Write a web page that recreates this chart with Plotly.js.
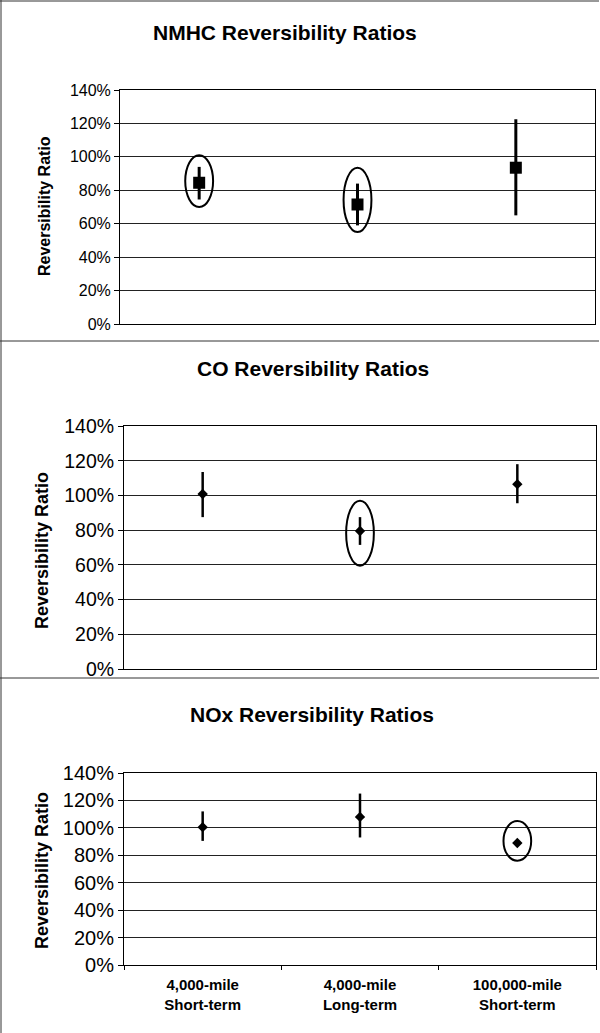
<!DOCTYPE html>
<html>
<head>
<meta charset="utf-8">
<script src="https://cdn.plot.ly/plotly-3.0.1.min.js"></script>
<style>
  html, body { margin: 0; padding: 0; background: #fff; }
  #chart { width: 600px; height: 1033px; }
</style>
</head>
<body>
<div id="chart"></div>
<script>
// ---- data ----
const categories = ['4,000-mile<br>Short-term', '4,000-mile<br>Long-term', '100,000-mile<br>Short-term'];
const yTickVals = [0, 20, 40, 60, 80, 100, 120, 140];
const yTickText = yTickVals.map(v => v + '%');

const nmhcValue = [84.5, 71.5, 93.5];
const nmhcUpper = [94, 84, 122.5];
const nmhcLower = [74.5, 59, 65];

const coValue = [100.8, 79.5, 106.5];
const coUpper = [113.5, 87.5, 118];
const coLower = [87.5, 71.5, 95.5];

const noxValue = [100.5, 108, 89];
const noxUpper = [112, 125, 89];
const noxLower = [90.5, 93, 89];

// circled (highlighted) points: category index, lower / upper extent of the ellipse
const nmhcHighlight = [[0, 70, 101], [1, 55, 93.5]];
const coHighlight = [[1, 59.5, 97]];
const noxHighlight = [[2, 76, 105]];

const panelTitles = ['NMHC Reversibility Ratios', 'CO Reversibility Ratios', 'NOx Reversibility Ratios'];
const yAxisTitle = 'Reversibility Ratio';

// ---- layout helpers ----
const W = 600, H = 1033;
const FONT = 'Liberation Sans, Arial, Helvetica, sans-serif';
const px = v => v / W;
const py = v => 1 - v / H;

function trace(vals, up, lo, sym, size, thick, ax) {
  return {
    type: 'scatter', mode: 'markers',
    x: categories, y: vals,
    xaxis: 'x' + ax, yaxis: 'y' + ax,
    marker: { symbol: sym, size: size, color: '#000' },
    error_y: {
      type: 'data', symmetric: false,
      array: up.map((u, i) => u - vals[i]),
      arrayminus: lo.map((l, i) => vals[i] - l),
      color: '#000', thickness: thick, width: 0
    },
    showlegend: false, hoverinfo: 'skip'
  };
}

const data = [
  trace(nmhcValue, nmhcUpper, nmhcLower, 'square', 12, 3, ''),
  trace(coValue, coUpper, coLower, 'diamond', 8, 2.5, '2'),
  trace(noxValue, noxUpper, noxLower, 'diamond', 8, 2.5, '3')
];
data[0].xaxis = 'x'; data[0].yaxis = 'y';

// plot boxes (pixel coords): [left, right, top(140%), bottom(0%)]
const boxes = [[120, 595, 90, 324], [124, 596, 426, 669], [124, 596, 773, 965]];
const tickSizes = [16, 19.5, 20];

function yax(i) {
  const b = boxes[i];
  return {
    domain: [py(b[3]), py(b[2])], range: [0, 140],
    tickmode: 'array', tickvals: yTickVals, ticktext: yTickText,
    ticks: 'outside', ticklen: 5, tickcolor: '#000',
    showline: true, linecolor: '#000', linewidth: 1, mirror: true,
    showgrid: true, gridcolor: '#222', gridwidth: 1,
    zeroline: false, fixedrange: true,
    tickfont: { family: FONT, size: tickSizes[i], color: '#000' },
    anchor: i === 0 ? 'x' : 'x' + (i + 1)
  };
}
function xax(i) {
  const b = boxes[i];
  return {
    domain: [px(b[0]), px(b[1])],
    type: 'category', categoryorder: 'array', categoryarray: categories,
    range: [-0.5, 2.5],
    showline: true, linecolor: '#000', linewidth: 1, mirror: true,
    showgrid: false, zeroline: false, fixedrange: true,
    showticklabels: i === 2,
    ticks: i === 2 ? 'outside' : '', tickson: 'boundaries', ticklen: 4, tickcolor: '#000',
    ticklabelstandoff: 6,
    tickfont: { family: FONT, size: 15, color: '#000', weight: 'bold' },
    anchor: i === 0 ? 'y' : 'y' + (i + 1)
  };
}

const shapes = [];
function addEllipses(list, ax) {
  list.forEach(h => {
    shapes.push({
      type: 'circle', xref: 'x' + ax, yref: 'y' + ax,
      x0: h[0] - 0.088, x1: h[0] + 0.088, y0: h[1], y1: h[2],
      line: { color: '#000', width: 2 }, fillcolor: 'rgba(0,0,0,0)'
    });
  });
}
addEllipses(nmhcHighlight, '');
addEllipses(coHighlight, '2');
addEllipses(noxHighlight, '3');

// panel frame lines
const frame = { color: '#333', width: 1 };
shapes.push({ type: 'line', xref: 'paper', yref: 'paper', x0: px(1), x1: px(1), y0: 0, y1: 1, line: frame });
shapes.push({ type: 'line', xref: 'paper', yref: 'paper', x0: 0, x1: px(599), y0: py(1), y1: py(1), line: frame });
shapes.push({ type: 'line', xref: 'paper', yref: 'paper', x0: 0, x1: px(599), y0: py(341), y1: py(341), line: frame });
shapes.push({ type: 'line', xref: 'paper', yref: 'paper', x0: 0, x1: px(599), y0: py(678), y1: py(678), line: frame });

const titlePos = [[285, 33], [313, 368], [312, 714]];
const titleSize = [21, 21, 21];
const yTitlePos = [[44, 206], [42, 551], [42, 871]];
const yTitleSize = [16, 18, 18];

const annotations = [];
panelTitles.forEach((t, i) => {
  annotations.push({
    text: t, xref: 'paper', yref: 'paper',
    x: px(titlePos[i][0]), y: py(titlePos[i][1]), xanchor: 'center', yanchor: 'middle',
    showarrow: false, font: { family: FONT, size: titleSize[i], color: '#000', weight: 'bold' }
  });
  annotations.push({
    text: yAxisTitle, xref: 'paper', yref: 'paper', textangle: -90,
    x: px(yTitlePos[i][0]), y: py(yTitlePos[i][1]), xanchor: 'center', yanchor: 'middle',
    showarrow: false, font: { family: FONT, size: yTitleSize[i], color: '#000', weight: 'bold' }
  });
});

const layout = {
  width: W, height: H,
  margin: { l: 0, r: 0, t: 0, b: 0 },
  paper_bgcolor: '#fff', plot_bgcolor: '#fff',
  showlegend: false,
  xaxis: xax(0), yaxis: yax(0),
  xaxis2: xax(1), yaxis2: yax(1),
  xaxis3: xax(2), yaxis3: yax(2),
  shapes: shapes, annotations: annotations
};

Plotly.newPlot('chart', data, layout, { staticPlot: true, displayModeBar: false });
</script>
</body>
</html>
